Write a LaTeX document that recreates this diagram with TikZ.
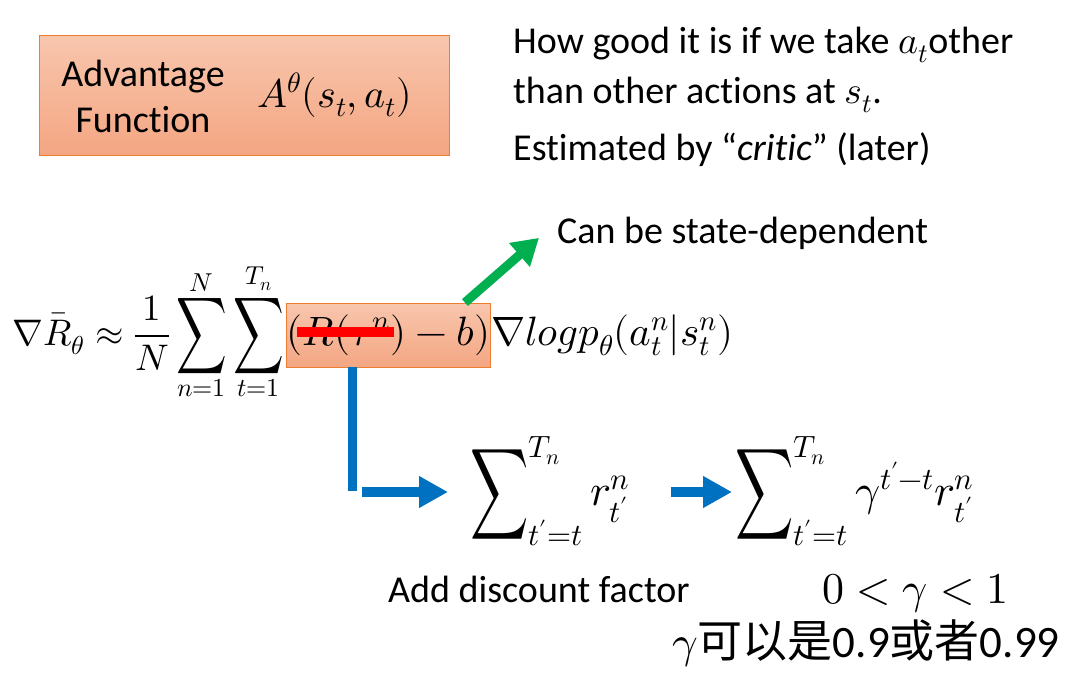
\documentclass[tikz,border=0pt]{standalone}
\usepackage{fontspec}
\usepackage{unicode-math}
\usepackage{graphicx}
\setmainfont{Carlito}[Ligatures=NoCommon]
\setmathfont{Latin Modern Math}
\newfontfamily\cjk{Noto Sans CJK SC}
\usetikzlibrary{positioning, arrows.meta}
\definecolor{boxtop}{RGB}{248,198,174}
\definecolor{boxbot}{RGB}{244,166,130}
\definecolor{boxline}{RGB}{237,125,49}
\definecolor{arrblue}{RGB}{0,112,192}
\definecolor{arrgreen}{RGB}{0,176,80}
\newcommand{\tallsum}[2]{\mathop{\vcenter{\hbox{\scalebox{#1}[#2]{$\displaystyle\sum$}}}}}
\tikzset{
  advbox/.style={draw=boxline, line width=0.9pt, top color=boxtop, bottom color=boxbot},
  txt/.style={font=\fontsize{38}{46}\selectfont, inner sep=0pt},
  mth/.style={font=\fontsize{37}{45}\selectfont, inner sep=0pt},
  bigmth/.style={font=\fontsize{41}{49}\selectfont, inner sep=0pt},
  bline/.style={line width=9pt, draw=arrblue},
  barr/.style={-{Triangle[length=29pt,width=30pt]}, line width=10pt, draw=arrblue},
  garr/.style={-{Triangle[length=26pt,width=30pt]}, line width=9pt, draw=arrgreen},
  strike/.style={line width=10pt, draw=red}
}

\begin{document}
\begin{tikzpicture}[x=1pt, y=-1pt]
  \useasboundingbox (0,0) rectangle (1073,673);
  % advantage function box
  \node[advbox, minimum width=410pt, minimum height=120pt] (afbox) at (244,95) {};
  \node[txt, align=center] (afname) at (143,96) {Advantage\\Function};
  \node[bigmth, font=\fontsize{40}{48}\selectfont, anchor=base] (afsym) at (335,107) {$A^{\theta}(s_t,a_t)$};
  \node[txt, anchor=base west] (desc1) at (513,53) {How good it is if we take $a_t$other};
  \node[txt, anchor=base west] (desc2) at (513,103) {than other actions at $s_t$.};
  \node[txt, anchor=base west] (desc3) at (513,160) {Estimated by “\textit{critic}” (later)};
  % gradient
  \node[advbox, bigmth, minimum width=203pt, minimum height=64pt] (adv) at (388.5,335) {$(R(\tau^n)-b)$};
  \node[mth, anchor=base east] (grad) at ([xshift=-2pt]adv.base west)
    {$\displaystyle\nabla\bar{R}_\theta\approx\frac{1}{N}\tallsum{0.95}{1.45}\limits_{n=1}^{N}\tallsum{0.95}{1.45}\limits_{t=1}^{T_n}$};
  \node[bigmth, anchor=base west] (logp) at (adv.base east) {$\nabla logp_\theta(a_t^n|s_t^n)$};
  \draw[strike] ([xshift=11pt,yshift=3pt]adv.west) -- ([xshift=108pt,yshift=3pt]adv.west);
  \node[txt, anchor=base west] (state) at (557,243) {Can be state-dependent};
  \draw[garr] ([xshift=-26pt]adv.north east) -- ([xshift=-18pt,yshift=-5pt]state.west);
  % returns
  \node[bigmth, font=\fontsize{44}{52}\selectfont, anchor=west] (sumA) at (470,491)
    {$\tallsum{0.92}{1.45}\nolimits_{t'=t}^{T_n} r_{t'}^{n}$};
  \node[bigmth, font=\fontsize{44}{52}\selectfont, anchor=west] (sumB) at (735,491)
    {$\tallsum{0.92}{1.45}\nolimits_{t'=t}^{T_n}\gamma^{t'-t}r_{t'}^{n}$};
  \coordinate (bend) at (352.5,491);
  \draw[bline] (adv.south -| bend) -- (bend);
  \draw[barr] ([xshift=9pt,yshift=-1pt]bend) -- ([xshift=-22pt]sumA.west |- 0,492);
  \draw[barr] ([xshift=-64pt]sumB.west |- 0,492) -- ([xshift=-3pt]sumB.west |- 0,492);
  \node[txt, anchor=base west] (disc) at (388,602) {Add discount factor};
  \node[bigmth, font=\fontsize{44}{52}\selectfont, anchor=base west] (grange) at (822,603) {$0<\gamma<1$};
  \node[txt, font=\fontsize{45}{53}\selectfont, anchor=base west] (gnote) at (672,657)
    {$\gamma${\cjk 可以是}0.9{\cjk 或者}0.99};
\end{tikzpicture}
\end{document}
